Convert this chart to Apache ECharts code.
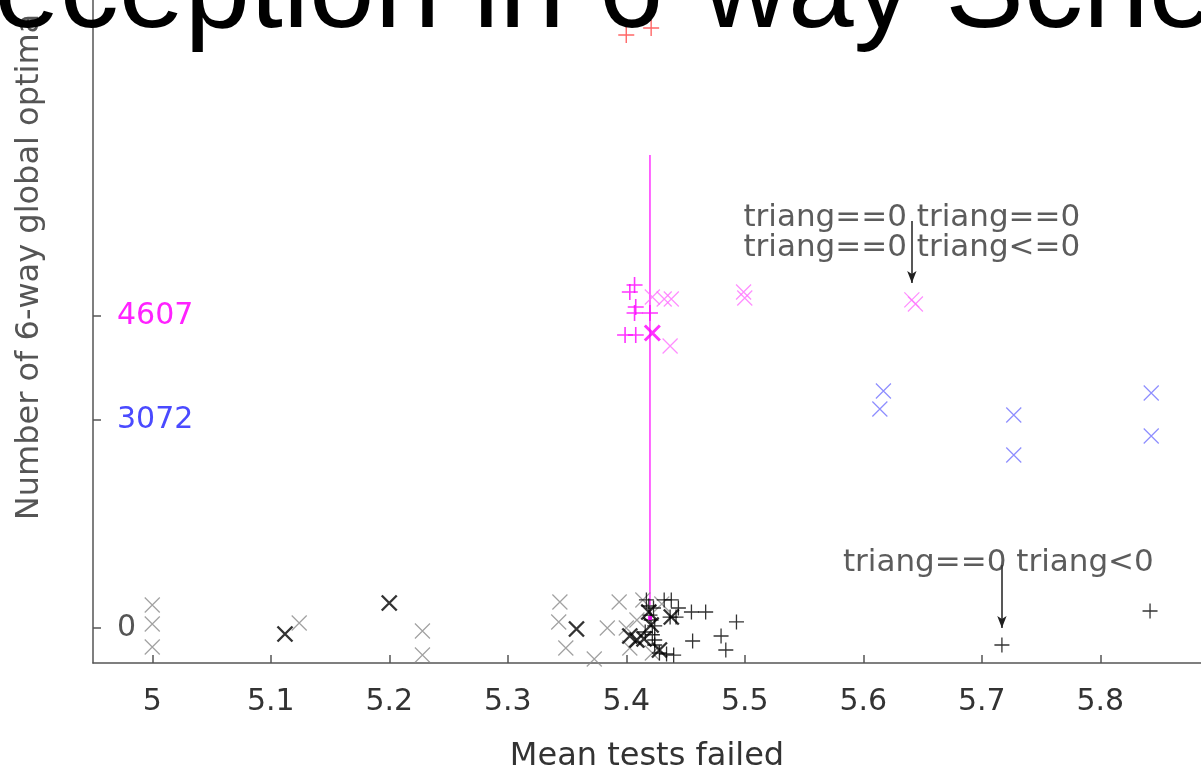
<!DOCTYPE html>
<html>
<head>
<meta charset="utf-8">
<script src="https://cdn.jsdelivr.net/npm/echarts@6/dist/echarts.min.js"></script>
<style>
  html, body { margin: 0; padding: 0; background: #ffffff; }
  #chart { width: 1201px; height: 770px; }
</style>
</head>
<body>
<div id="chart"></div>
<script>
// ---- data ----------------------------------------------------------------
const titleText = 'Deception in 6-way Schemata';
const xName = 'Mean tests failed';
const yName = 'Number of 6-way global optima';
const xTicks = [5, 5.1, 5.2, 5.3, 5.4, 5.5, 5.6, 5.7, 5.8];
const yTicks = [0, 3072, 4607];

// [mean tests failed, number of global optima]
const grayCross = [
  [5.000, 340], [5.000, 59], [5.000, -281],
  [5.124, 74],
  [5.228, -44], [5.228, -399],
  [5.344, 384], [5.343, 89], [5.349, -295],
  [5.373, -458],
  [5.384, 0], [5.394, 384], [5.400, 0], [5.403, -295],
  [5.408, -177], [5.409, 118], [5.414, 414], [5.422, -369], [5.430, 354]
];
const blackCross = [
  [5.112, -89], [5.200, 369], [5.358, -15],
  [5.403, -118], [5.409, -177], [5.415, -160],
  [5.419, 236], [5.421, 44], [5.438, 162], [5.428, -325]
];
const blackPlus = [
  [5.417, 414], [5.419, 325], [5.423, 295], [5.420, 190], [5.421, 118],
  [5.424, 30], [5.416, -59], [5.422, -100], [5.424, -177],
  [5.432, 414], [5.438, 414], [5.444, 295], [5.437, 162], [5.442, 162],
  [5.455, 236], [5.467, 236], [5.456, -192], [5.480, -118], [5.484, -325],
  [5.493, 89], [5.428, -369], [5.434, -384], [5.440, -400], [5.424, -251],
  [5.717, -251], [5.842, 251]
];
const magentaPlus = [
  [5.407, 5066], [5.403, 4963], [5.408, 4741], [5.407, 4653],
  [5.420, 4653], [5.399, 4328], [5.408, 4328]
];
const magentaBoldCross = [[5.422, 4357]];
const magentaCross = [
  [5.422, 4889], [5.432, 4859], [5.438, 4859], [5.437, 4165],
  [5.499, 4963], [5.500, 4874], [5.641, 4845], [5.644, 4785]
];
const blueCross = [
  [5.617, 3500], [5.614, 3235], [5.727, 3146], [5.727, 2555],
  [5.843, 3471], [5.843, 2836]
];
const redPlus = [[5.421, 8862], [5.400, 8758]];
const magentaBar = [[5.42, 340], [5.42, 6986]];
const magentaCentre = [[5.42, 148]];

// annotation texts, their anchor points and arrows
const noteText = ['triang==0 triang==0\ntriang==0 triang<=0', 'triang==0 triang<0'];
const noteAt = [[5.641, 5834], [5.714, 960]];
const arrows = [
  [[5.641, 6010], [5.641, 5096]],
  [[5.717, 930], [5.717, 0]]
];

// ---- styling ---------------------------------------------------------------
const FONT = 'DejaVu Sans';
const TEXT = '#333333';
const AXIS = '#555555';
const tickColour = { 0: '#555555', 3072: '#4a4aff', 4607: '#ff22ff' };
const PLUS = 'path://M0,5L10,5M5,0L5,10';
const CROSS = 'path://M0,0L10,10M10,0L0,10';

function markers(name, data, symbol, colour, size, width, z) {
  return {
    name, type: 'scatter', data, symbol, symbolSize: size,
    itemStyle: { color: 'transparent', borderColor: colour, borderWidth: width },
    emphasis: { disabled: true }, silent: true, z: z || 2
  };
}

const chart = echarts.init(document.getElementById('chart'), null, { renderer: 'canvas' });

chart.setOption({
  animation: false,
  backgroundColor: '#ffffff',
  title: {
    text: titleText,
    left: -91, top: -65, padding: 0,
    textStyle: { fontFamily: 'Liberation Sans', fontSize: 118, fontWeight: 'normal', color: '#000000' }
  },
  grid: { left: 93, top: 0, right: 0, bottom: 107, containLabel: false, outerBoundsMode: 'none' },
  xAxis: {
    type: 'value', min: 4.95, max: 5.885,
    name: xName, nameLocation: 'middle', nameGap: 78,
    nameTextStyle: { fontFamily: FONT, fontSize: 32, color: TEXT },
    axisLine: { show: true, onZero: false, lineStyle: { color: AXIS, width: 1.5 } },
    axisTick: { show: true, inside: true, length: 8, customValues: xTicks, lineStyle: { color: AXIS, width: 1.5 } },
    axisLabel: { customValues: xTicks, margin: 24, fontFamily: FONT, fontSize: 30, color: TEXT },
    splitLine: { show: false }
  },
  yAxis: {
    type: 'value', min: -517, max: 9275,
    name: yName, nameLocation: 'middle', nameGap: 47,
    nameTextStyle: { fontFamily: FONT, fontSize: 32, color: '#555555', padding: [0, 0, 0, 129] },
    axisLine: { show: true, onZero: false, lineStyle: { color: AXIS, width: 1.5 } },
    axisTick: { show: true, inside: true, length: 8, customValues: yTicks, lineStyle: { color: AXIS, width: 1.5 } },
    axisLabel: {
      customValues: yTicks, inside: true, margin: 24,
      fontFamily: FONT, fontSize: 30,
      formatter: (v) => String(v),
      color: (v) => tickColour[Number(v)] || TEXT
    },
    splitLine: { show: false }
  },
  series: [
    {
      name: 'spread', type: 'line', data: magentaBar, symbol: 'none',
      lineStyle: { color: '#ff33ff', width: 1.5 }, silent: true, z: 1
    },
    markers('gray x', grayCross, CROSS, '#8a8a8a', 15, 1.2),
    markers('magenta x', magentaCross, CROSS, '#ff70ff', 15, 1.2),
    markers('blue x', blueCross, CROSS, '#7070ff', 15, 1.2),
    markers('black x', blackCross, CROSS, '#000000', 15, 2.4, 3),
    markers('black +', blackPlus, PLUS, '#000000', 15, 1.3, 3),
    markers('magenta +', magentaPlus, PLUS, '#ff00ff', 16, 1.6, 3),
    markers('magenta bold x', magentaBoldCross, CROSS, '#ff00ff', 15, 3, 3),
    markers('red +', redPlus, PLUS, '#ff4040', 16, 1.4, 1),
    {
      name: 'centre', type: 'scatter', data: magentaCentre, symbol: 'rect', symbolSize: 4,
      itemStyle: { color: '#ff00ff' }, silent: true, z: 4
    },
    {
      name: 'notes', type: 'scatter', symbolSize: 0, silent: true, z: 5,
      data: noteAt.map((p, i) => ({ value: p, name: noteText[i] })),
      label: {
        show: true, position: 'inside', formatter: (p) => p.name,
        fontFamily: FONT, fontSize: 31, lineHeight: 30, color: TEXT
      },
      markLine: {
        silent: true, symbol: ['none', 'arrow'], symbolSize: [7, 12],
        label: { show: false },
        lineStyle: { color: '#202020', width: 1.5, type: 'solid' },
        data: arrows.map(([a, b]) => [{ coord: a }, { coord: b }])
      }
    }
  ]
});
</script>
</body>
</html>
